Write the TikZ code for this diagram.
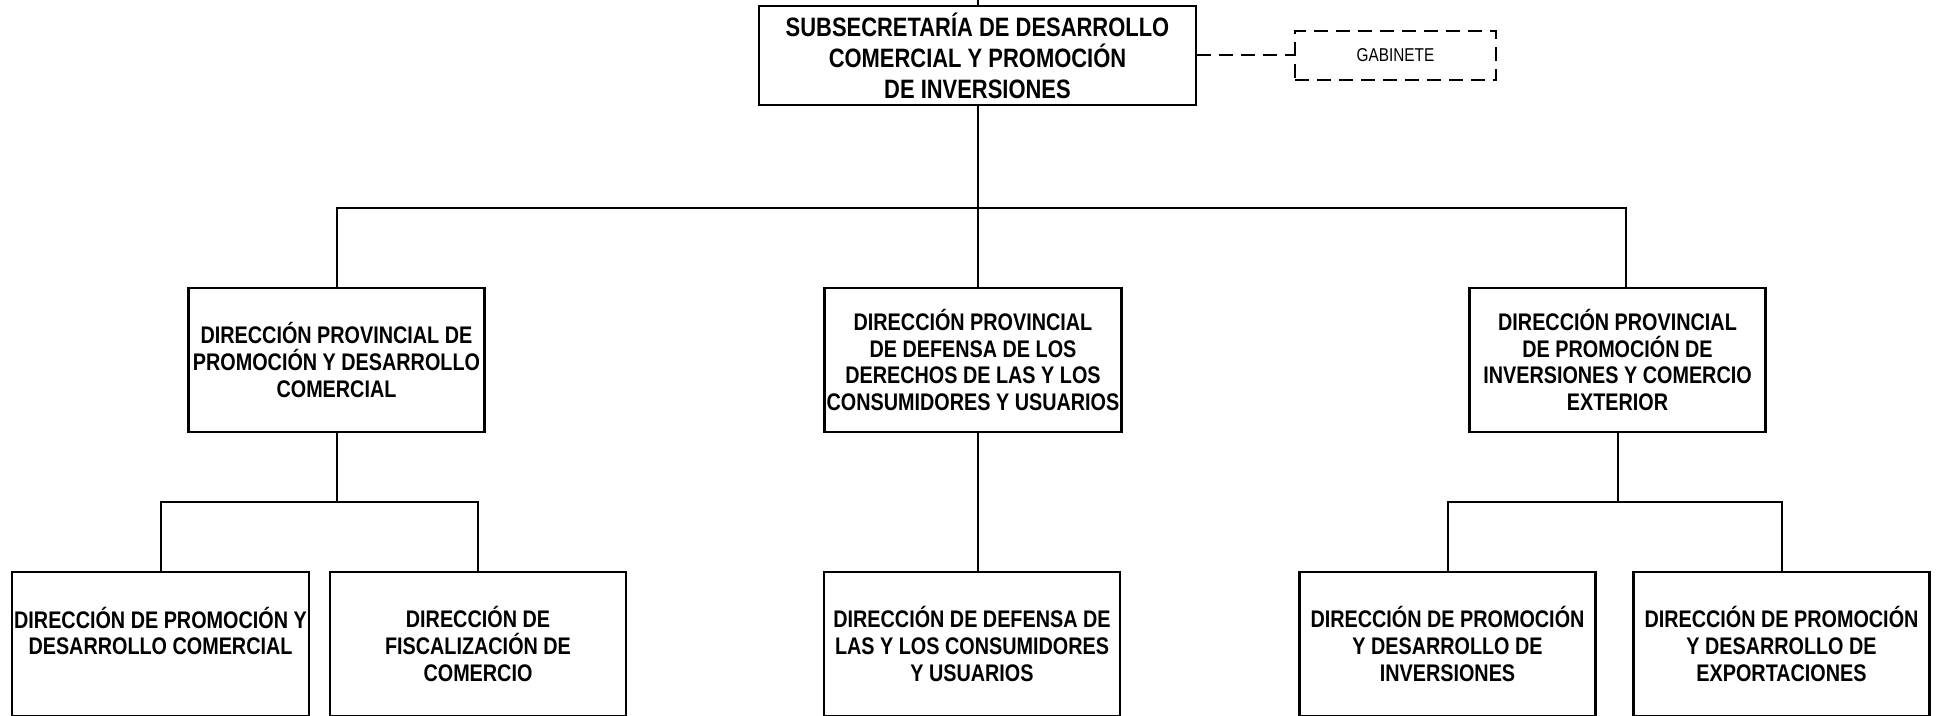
\documentclass[tikz,border=0pt]{standalone}
\usepackage{fontspec}
\setmainfont{Liberation Sans}[FakeStretch=0.825]
\usepackage{tikz}
\usetikzlibrary{calc}
\tikzset{
  box/.style={draw,line width=1.2pt,align=center,inner sep=1pt,font=\fontsize{12}{13.3}\selectfont\bfseries,minimum width=148pt,minimum height=72pt},
  topbox/.style={box,font=\fontsize{13.3}{15.5}\selectfont\bfseries,minimum width=218.5pt,minimum height=49.5pt},
  gabbox/.style={draw,line width=1pt,dash pattern=on 7pt off 4pt,font=\fontsize{9.3}{10}\selectfont,minimum width=100.5pt,minimum height=24.5pt},
  link/.style={line width=1pt}
}

\begin{document}
\begin{tikzpicture}[line cap=butt,line join=miter,x=0.5pt,y=-0.5pt]

            \useasboundingbox (0,0) rectangle (1939,716);
            \node[topbox] (subse) at (977.5,55.5) {SUBSECRETARÍA DE DESARROLLO\\COMERCIAL Y PROMOCIÓN\\DE INVERSIONES};
            \node[gabbox] (gab) at (1395.5,55.5) {GABINETE};
            \coordinate (up) at (977.5,0);
            \coordinate (bus) at (977.5,208);
            \node[box] (dpprom) at (336.5,360) {DIRECCIÓN PROVINCIAL DE\\PROMOCIÓN Y DESARROLLO\\COMERCIAL};
            \node[box] (dpdef) at (973,360) {DIRECCIÓN PROVINCIAL\\DE DEFENSA DE LOS\\DERECHOS DE LAS Y LOS\\CONSUMIDORES Y USUARIOS};
            \node[box] (dpinv) at (1617.5,360) {DIRECCIÓN PROVINCIAL\\DE PROMOCIÓN DE\\INVERSIONES Y COMERCIO\\EXTERIOR};
            \node[box] (dprom) at (160.5,644) {DIRECCIÓN DE PROMOCIÓN Y\\DESARROLLO COMERCIAL\\~};
            \node[box] (dfisc) at (478,644) {DIRECCIÓN DE\\FISCALIZACIÓN DE\\COMERCIO};
            \node[box] (ddef) at (972,644) {DIRECCIÓN DE DEFENSA DE\\LAS Y LOS CONSUMIDORES\\Y USUARIOS};
            \node[box] (dinv) at (1447.5,644) {DIRECCIÓN DE PROMOCIÓN\\Y DESARROLLO DE\\INVERSIONES};
            \node[box] (dexp) at (1781.5,644) {DIRECCIÓN DE PROMOCIÓN\\Y DESARROLLO DE\\EXPORTACIONES};
            \coordinate (rdrop) at ([xshift=4pt]dpinv.north);
            \draw [link] (subse.north) -- (up);
            \draw [link,dash pattern=on 7pt off 4pt] (subse.east) -- (gab.west);
            \draw [link] (subse.south) -- (bus);
            \draw [link] (dpprom.north) -- (dpprom.north |- bus) -- (rdrop |- bus) -- (rdrop);
            \draw [link] (bus) -- (bus |- dpdef.north);
            \draw [link] (dpprom.south) -- ($(dpprom.south)!0.5!(dpprom.south |- dprom.north)$) coordinate (leftbus);
            \draw [link] (dprom.north) -- (dprom.north |- leftbus) -- (dfisc.north |- leftbus) -- (dfisc.north);
            \draw [link] (bus |- dpdef.south) -- (bus |- ddef.north);
            \draw [link] (dpinv.south) -- ($(dpinv.south)!0.5!(dpinv.south |- dinv.north)$) coordinate (rightbus);
            \draw [link] (dinv.north) -- (dinv.north |- rightbus) -- (dexp.north |- rightbus) -- (dexp.north);
            \end{tikzpicture}
\end{document}
